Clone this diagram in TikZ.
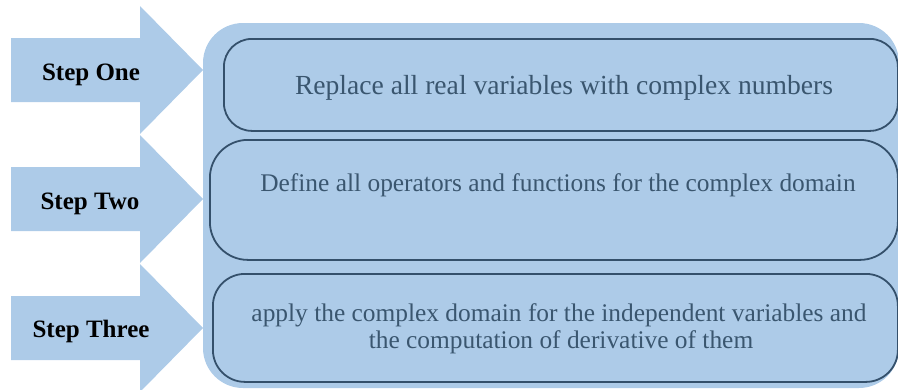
\documentclass[tikz,border=0pt]{standalone}
\usepackage{fontspec}
\setmainfont{Liberation Serif}
\definecolor{lightfill}{HTML}{ADCBE8}
\definecolor{boxline}{HTML}{34506B}
\definecolor{boxtext}{HTML}{3A566F}
\begin{document}
\begin{tikzpicture}[x=1pt,y=-1pt,
  bigpanel/.style={fill=lightfill,draw=none,rounded corners=40pt},
  stepbox/.style={draw=boxline,line width=1.8pt,fill=lightfill,rectangle,inner sep=0pt},
  steplabel/.style={font=\fontsize{25}{28}\selectfont\bfseries,text=black,anchor=base,inner sep=0pt},
  boxlabel/.style={font=\fontsize{25.4}{28}\selectfont,text=boxtext,anchor=base,inner sep=0pt,align=center}]
\useasboundingbox (0,0) rectangle (898,389);
\clip (0,0) rectangle (898,389);
% large panel
\draw[bigpanel] (203,23) rectangle (899,388);
% arrows
\foreach \c in {70,199,328}{
  \fill[lightfill] (11,\c-32) -- (140,\c-32) -- (140,\c-64) -- (203,\c) -- (140,\c+64) -- (140,\c+32) -- (11,\c+32) -- cycle;
}
\node[steplabel] (s1) at (91,80) {Step One};
\node[steplabel] (s2) at (90,209) {Step Two};
\node[steplabel] (s3) at (91,337) {Step Three};
% inner boxes
\node[stepbox,rounded corners=28pt,minimum width=674pt,minimum height=92pt,anchor=north west] (b1) at (223,38) {};
\node[stepbox,rounded corners=38pt,minimum width=688pt,minimum height=120pt,anchor=north west] (b2) at (209,139) {};
\node[stepbox,rounded corners=32pt,minimum width=685pt,minimum height=108pt,anchor=north west] (b3) at (212,273) {};
% texts
\node[boxlabel,font=\fontsize{27.6}{30}\selectfont] (t1) at (564,94) {Replace all real variables with complex numbers};
\node[boxlabel] (t2) at (558,191) {Define all operators and functions for the complex domain};
\node[boxlabel] (t3a) at (559,321) {apply the complex domain for the independent variables and};
\node[boxlabel] (t3b) at (561,348) {the computation of derivative of them};
\end{tikzpicture}
\end{document}
